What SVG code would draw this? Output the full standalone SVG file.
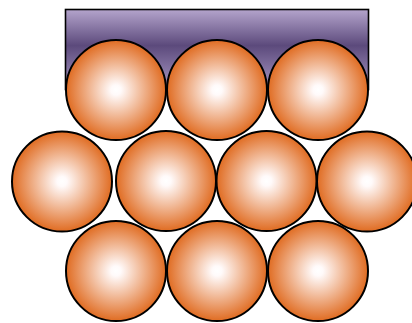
<svg xmlns="http://www.w3.org/2000/svg" width="412" height="323" viewBox="0 0 412 323">
<defs>
<linearGradient id="purple" x1="0" y1="0" x2="0" y2="1">
<stop offset="0" stop-color="#b4a4cc"/>
<stop offset="0.45" stop-color="#5c4a7c"/>
<stop offset="1" stop-color="#a898c4"/>
</linearGradient>
<radialGradient id="ball" cx="0.5" cy="0.5" r="0.5">
<stop offset="0" stop-color="#ffffff"/>
<stop offset="0.1" stop-color="#fffafa"/>
<stop offset="1" stop-color="#e06c22"/>
</radialGradient>
<style>
.b{fill:url(#ball);stroke:#000;stroke-width:2}
</style>
</defs>
<rect x="65.5" y="9.5" width="303" height="80" fill="url(#purple)" stroke="#000" stroke-width="1.6"/>
<g id="row1">
<circle id="c1" class="b" cx="116" cy="90" r="50"/>
<circle id="c2" class="b" cx="217" cy="90" r="50"/>
<circle id="c3" class="b" cx="318" cy="90" r="50"/>
</g>
<g id="row2">
<circle id="c4" class="b" cx="62" cy="181.5" r="50"/>
<circle id="c5" class="b" cx="166" cy="181" r="50"/>
<circle id="c6" class="b" cx="266.5" cy="181" r="50"/>
<circle id="c7" class="b" cx="367" cy="181.5" r="50"/>
</g>
<g id="row3">
<circle id="c8" class="b" cx="116" cy="271" r="50"/>
<circle id="c9" class="b" cx="217" cy="271" r="50"/>
<circle id="c10" class="b" cx="318" cy="271" r="50"/>
</g>
</svg>
